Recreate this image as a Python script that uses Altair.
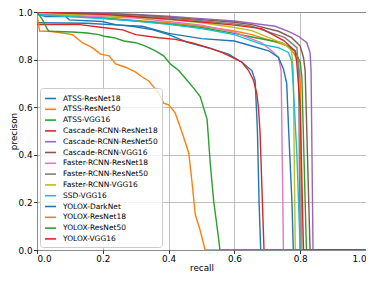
import altair as alt
import pandas as pd

series_names = [
    "ATSS-ResNet18", "ATSS-ResNet50", "ATSS-VGG16",
    "Cascade-RCNN-ResNet18", "Cascade-RCNN-ResNet50", "Cascade-RCNN-VGG16",
    "Faster-RCNN-ResNet18", "Faster-RCNN-ResNet50", "Faster-RCNN-VGG16",
    "SSD-VGG16", "YOLOX-DarkNet", "YOLOX-ResNet18", "YOLOX-ResNet50", "YOLOX-VGG16",
]
colors = [
    "#1f77b4", "#ff7f0e", "#2ca02c", "#d62728", "#9467bd", "#8c564b", "#e377c2",
    "#7f7f7f", "#bcbd22", "#17becf", "#1f77b4", "#ff7f0e", "#2ca02c", "#d62728",
]

atss_r18_recall = [0, 0.027, 0.087, 0.098, 0.198, 0.239, 0.289, 0.35, 0.40, 0.46, 0.52, 0.582, 0.623, 0.653, 0.663, 0.67, 0.675, 0.68, 1.0]
atss_r18_prec = [0.99, 0.981, 0.981, 0.967, 0.96, 0.947, 0.94, 0.926, 0.905, 0.871, 0.85, 0.823, 0.789, 0.754, 0.713, 0.5, 0.2, 0.0, 0.0]

atss_r50_recall = [0, 0.1, 0.2, 0.3, 0.4, 0.5, 0.6, 0.653, 0.764, 0.779, 0.795, 0.80, 0.805, 1.0]
atss_r50_prec = [0.99, 0.985, 0.975, 0.965, 0.955, 0.94, 0.92, 0.905, 0.857, 0.83, 0.79, 0.70, 0.0, 0.0]

atss_vgg_recall = [0, 0.1, 0.2, 0.3, 0.4, 0.5, 0.6, 0.653, 0.744, 0.784, 0.80, 0.805, 0.819, 1.0]
atss_vgg_prec = [0.995, 0.985, 0.975, 0.962, 0.95, 0.935, 0.91, 0.895, 0.871, 0.837, 0.789, 0.727, 0.0, 0.0]

cas_r18_recall = [0, 0.13, 0.2, 0.26, 0.30, 0.37, 0.42, 0.47, 0.52, 0.562, 0.592, 0.623, 0.643, 0.658, 0.668, 0.673, 0.678, 0.683, 0.69, 1.0]
cas_r18_prec = [0.947, 0.947, 0.935, 0.925, 0.905, 0.892, 0.885, 0.871, 0.85, 0.83, 0.81, 0.789, 0.754, 0.713, 0.658, 0.6, 0.494, 0.288, 0.0, 0.0]

cas_r50_recall = [0, 0.1, 0.2, 0.3, 0.4, 0.5, 0.6, 0.653, 0.724, 0.764, 0.795, 0.82, 0.83, 0.833, 0.839, 1.0]
cas_r50_prec = [1.0, 0.998, 0.995, 0.99, 0.982, 0.972, 0.962, 0.953, 0.94, 0.919, 0.898, 0.871, 0.83, 0.754, 0.0, 0.0]

cas_vgg_recall = [0, 0.1, 0.2, 0.3, 0.4, 0.5, 0.6, 0.653, 0.734, 0.774, 0.80, 0.81, 0.815, 0.83, 1.0]
cas_vgg_prec = [1.0, 0.997, 0.993, 0.988, 0.978, 0.968, 0.957, 0.947, 0.919, 0.892, 0.857, 0.809, 0.754, 0.0, 0.0]

fas_r18_recall = [0, 0.05, 0.1, 0.2, 0.3, 0.4, 0.5, 0.6, 0.683, 0.713, 0.734, 0.742, 0.749, 1.0]
fas_r18_prec = [0.99, 0.988, 0.985, 0.98, 0.975, 0.96, 0.945, 0.915, 0.87, 0.837, 0.809, 0.754, 0.0, 0.0]

fas_r50_recall = [0, 0.1, 0.2, 0.3, 0.4, 0.5, 0.6, 0.653, 0.754, 0.79, 0.795, 0.80, 1.0]
fas_r50_prec = [0.995, 0.993, 0.99, 0.983, 0.975, 0.963, 0.95, 0.94, 0.892, 0.85, 0.754, 0.0, 0.0]

fas_vgg_recall = [0, 0.1, 0.2, 0.3, 0.4, 0.5, 0.6, 0.653, 0.754, 0.774, 0.779, 0.785, 1.0]
fas_vgg_prec = [0.995, 0.99, 0.985, 0.978, 0.968, 0.955, 0.935, 0.922, 0.864, 0.837, 0.754, 0.0, 0.0]

ssd_recall = [0, 0.1, 0.2, 0.3, 0.4, 0.5, 0.6, 0.683, 0.734, 0.764, 0.774, 0.779, 0.79, 0.80, 1.0]
ssd_prec = [0.99, 0.98, 0.972, 0.962, 0.948, 0.93, 0.905, 0.864, 0.85, 0.83, 0.795, 0.686, 0.4, 0.0, 0.0]

yd_recall = [0, 0.15, 0.25, 0.32, 0.4, 0.5, 0.6, 0.653, 0.704, 0.734, 0.749, 0.759, 0.765, 0.775, 0.779, 1.0]
yd_prec = [0.955, 0.953, 0.945, 0.94, 0.91, 0.888, 0.878, 0.857, 0.837, 0.809, 0.761, 0.70, 0.5, 0.2, 0.0, 0.0]

yr18_recall = [0, 0.008, 0.047, 0.077, 0.108, 0.138, 0.168, 0.193, 0.219, 0.239, 0.269, 0.299, 0.32, 0.34, 0.37, 0.385, 0.40, 0.42, 0.441, 0.461, 0.471, 0.481, 0.496, 0.511, 1.0]
yr18_prec = [0.99, 0.92, 0.918, 0.912, 0.905, 0.871, 0.85, 0.823, 0.816, 0.782, 0.768, 0.748, 0.727, 0.71, 0.658, 0.617, 0.61, 0.576, 0.494, 0.41, 0.288, 0.15, 0.082, 0.0, 0.0]

yr50_recall = [0, 0.017, 0.032, 0.037, 0.108, 0.153, 0.188, 0.204, 0.234, 0.264, 0.30, 0.33, 0.36, 0.385, 0.405, 0.431, 0.456, 0.481, 0.496, 0.517, 0.527, 0.537, 0.55, 0.556, 1.0]
yr50_prec = [1.0, 0.967, 0.926, 0.919, 0.916, 0.912, 0.905, 0.898, 0.892, 0.878, 0.871, 0.857, 0.837, 0.816, 0.782, 0.754, 0.713, 0.672, 0.645, 0.549, 0.357, 0.206, 0.07, 0.0, 0.0]

yv_recall = [0, 0.1, 0.2, 0.3, 0.4, 0.5, 0.6, 0.683, 0.75, 0.784, 0.789, 0.80, 0.81, 1.0]
yv_prec = [1.0, 0.995, 0.99, 0.98, 0.97, 0.958, 0.945, 0.93, 0.88, 0.837, 0.795, 0.6, 0.0, 0.0]

all_recall = [atss_r18_recall, atss_r50_recall, atss_vgg_recall, cas_r18_recall, cas_r50_recall,
              cas_vgg_recall, fas_r18_recall, fas_r50_recall, fas_vgg_recall, ssd_recall,
              yd_recall, yr18_recall, yr50_recall, yv_recall]
all_prec = [atss_r18_prec, atss_r50_prec, atss_vgg_prec, cas_r18_prec, cas_r50_prec,
            cas_vgg_prec, fas_r18_prec, fas_r50_prec, fas_vgg_prec, ssd_prec,
            yd_prec, yr18_prec, yr50_prec, yv_prec]

rows = []
for name, rs, ps in zip(series_names, all_recall, all_prec):
    for i, (r, p) in enumerate(zip(rs, ps)):
        rows.append({"series": name, "recall": r, "precision": p, "idx": i})
df = pd.DataFrame(rows)

ticks = [0.0, 0.2, 0.4, 0.6, 0.8, 1.0]
font = "DejaVu Sans"

chart = alt.Chart(df).mark_line(strokeWidth=1.4, clip=True).encode(
    x=alt.X("recall:Q", scale=alt.Scale(domain=[0, 1], nice=False),
            axis=alt.Axis(values=ticks, format=".1f", title="recall")),
    y=alt.Y("precision:Q", scale=alt.Scale(domain=[0, 1], nice=False),
            axis=alt.Axis(values=ticks, format=".1f", title="precison")),
    color=alt.Color("series:N", sort=series_names,
                    scale=alt.Scale(domain=series_names, range=colors),
                    legend=alt.Legend(title=None, orient="none", legendX=3, legendY=76,
                                      symbolType="stroke", symbolSize=120, symbolStrokeWidth=1.6,
                                      labelFontSize=7.5, labelFont=font, labelColor="#000000",
                                      rowPadding=0.8, padding=4, fillColor="rgba(255,255,255,0.8)",
                                      strokeColor="#cccccc", cornerRadius=3, labelOffset=6)),
    order=alt.Order("idx:Q"),
).properties(
    width=329, height=238,
    autosize=alt.AutoSizeParams(type="none"),
    padding={"left": 29, "top": 4, "right": 0, "bottom": 23},
).configure_axis(
    grid=True, gridColor="#b0b0b0", gridWidth=0.8,
    domain=False, tickColor="#000000", tickSize=3.5, tickWidth=0.8,
    labelFont=font, labelFontSize=8.8, labelColor="#000000",
    titleFont=font, titleFontSize=8.8, titleFontWeight="normal", titleColor="#000000",
    labelPadding=1.5,
).configure_axisX(titlePadding=0, labelPadding=1).configure_axisY(titlePadding=0).configure_view(
    stroke="#000000", strokeWidth=1.0
)

chart.save("out.html", embed_options={"renderer": "svg", "actions": False})
